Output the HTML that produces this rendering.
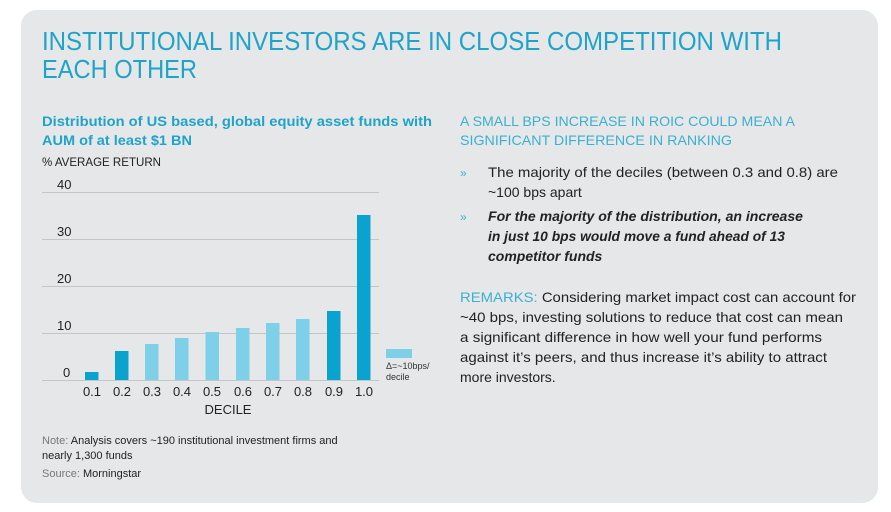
<!DOCTYPE html>
<html><head><meta charset="utf-8"><style>
html,body{margin:0;padding:0;background:#fff;width:891px;height:512px;overflow:hidden}
svg{display:block}
text{font-family:"Liberation Sans",sans-serif}
</style></head><body>
<svg width="891" height="512" viewBox="0 0 891 512" xmlns="http://www.w3.org/2000/svg">
<rect x="21" y="10" width="857" height="493" rx="16" fill="#e6e7e9"/>
<g fill="#1ea3c9" font-size="26">
<text x="42" y="50" textLength="740" lengthAdjust="spacingAndGlyphs">INSTITUTIONAL INVESTORS ARE IN CLOSE COMPETITION WITH</text>
<text x="42" y="78" textLength="155" lengthAdjust="spacingAndGlyphs">EACH OTHER</text>
</g>
<g fill="#1ea3c9" font-size="14" font-weight="bold">
<text x="42" y="126" textLength="390" lengthAdjust="spacingAndGlyphs">Distribution of US based, global equity asset funds with</text>
<text x="42" y="145" textLength="150" lengthAdjust="spacingAndGlyphs">AUM of at least $1 BN</text>
</g>
<text x="42" y="166" font-size="12" fill="#222" textLength="119" lengthAdjust="spacingAndGlyphs">% AVERAGE RETURN</text>
<g stroke="#c4c5c7" stroke-width="1">
<line x1="42" x2="379" y1="192.5" y2="192.5"/>
<line x1="42" x2="379" y1="239.5" y2="239.5"/>
<line x1="42" x2="379" y1="286.5" y2="286.5"/>
<line x1="42" x2="379" y1="333.5" y2="333.5"/>
<line x1="42" x2="379" y1="380.5" y2="380.5"/>
</g>
<g font-size="13" fill="#222">
<text x="57" y="189">40</text><text x="57" y="236">30</text><text x="57" y="283">20</text><text x="57" y="330">10</text><text x="63" y="377">0</text>
</g>
<g>
<rect x="85" y="372" width="13.5" height="8" fill="#0aa3cf"/>
<rect x="115" y="351" width="13.5" height="29" fill="#0aa3cf"/>
<rect x="145" y="344" width="13.5" height="36" fill="#7dd0e8"/>
<rect x="175" y="338" width="13.5" height="42" fill="#7dd0e8"/>
<rect x="205.5" y="332" width="13.5" height="48" fill="#7dd0e8"/>
<rect x="236" y="328" width="13.5" height="52" fill="#7dd0e8"/>
<rect x="266" y="323" width="13.5" height="57" fill="#7dd0e8"/>
<rect x="296" y="319" width="13.5" height="61" fill="#7dd0e8"/>
<rect x="327" y="311" width="13.5" height="69" fill="#0aa3cf"/>
<rect x="357" y="215" width="13.5" height="165" fill="#0aa3cf"/>
</g>
<g font-size="13" fill="#222" text-anchor="middle">
<text x="92" y="396">0.1</text><text x="122" y="396">0.2</text><text x="152" y="396">0.3</text><text x="182" y="396">0.4</text><text x="212" y="396">0.5</text><text x="243" y="396">0.6</text><text x="273" y="396">0.7</text><text x="303" y="396">0.8</text><text x="334" y="396">0.9</text><text x="364" y="396">1.0</text>
<text x="228" y="414">DECILE</text>
</g>
<rect x="386" y="349" width="26" height="9" fill="#7dd0e8"/>
<text x="386" y="369" font-size="9" fill="#333">Δ=~10bps/</text>
<text x="386" y="380" font-size="9" fill="#333">decile</text>
<g font-size="11" fill="#222">
<text x="42" y="444"><tspan fill="#777">Note:</tspan> Analysis covers ~190 institutional investment firms and</text>
<text x="42" y="459">nearly 1,300 funds</text>
<text x="42" y="477"><tspan fill="#777">Source:</tspan> Morningstar</text>
</g>
<g fill="#3bb0d0" font-size="14">
<text x="460" y="126" textLength="335" lengthAdjust="spacingAndGlyphs">A SMALL BPS INCREASE IN ROIC COULD MEAN A</text>
<text x="460" y="145" textLength="272" lengthAdjust="spacingAndGlyphs">SIGNIFICANT DIFFERENCE IN RANKING</text>
</g>
<g font-size="14" fill="#222">
<text x="460" y="177" fill="#3bb0d0" font-size="12">»</text>
<text x="488" y="177" textLength="350" lengthAdjust="spacingAndGlyphs">The majority of the deciles (between 0.3 and 0.8) are</text>
<text x="488" y="197">~100 bps apart</text>
<text x="460" y="221" fill="#3bb0d0" font-size="12">»</text>
<g font-weight="bold" font-style="italic">
<text x="488" y="221" textLength="315" lengthAdjust="spacingAndGlyphs">For the majority of the distribution, an increase</text>
<text x="488" y="241" textLength="297" lengthAdjust="spacingAndGlyphs">in just 10 bps would move a fund ahead of 13</text>
<text x="488" y="261">competitor funds</text>
</g>
<text x="460" y="302" textLength="396" lengthAdjust="spacingAndGlyphs"><tspan fill="#3bb0d0">REMARKS:</tspan> Considering market impact cost can account for</text>
<text x="460" y="322" textLength="383" lengthAdjust="spacingAndGlyphs">~40 bps, investing solutions to reduce that cost can mean</text>
<text x="460" y="342" textLength="362" lengthAdjust="spacingAndGlyphs">a significant difference in how well your fund performs</text>
<text x="460" y="362" textLength="367" lengthAdjust="spacingAndGlyphs">against it’s peers, and thus increase it’s ability to attract</text>
<text x="460" y="382">more investors.</text>
</g>
</svg>
</body></html>
